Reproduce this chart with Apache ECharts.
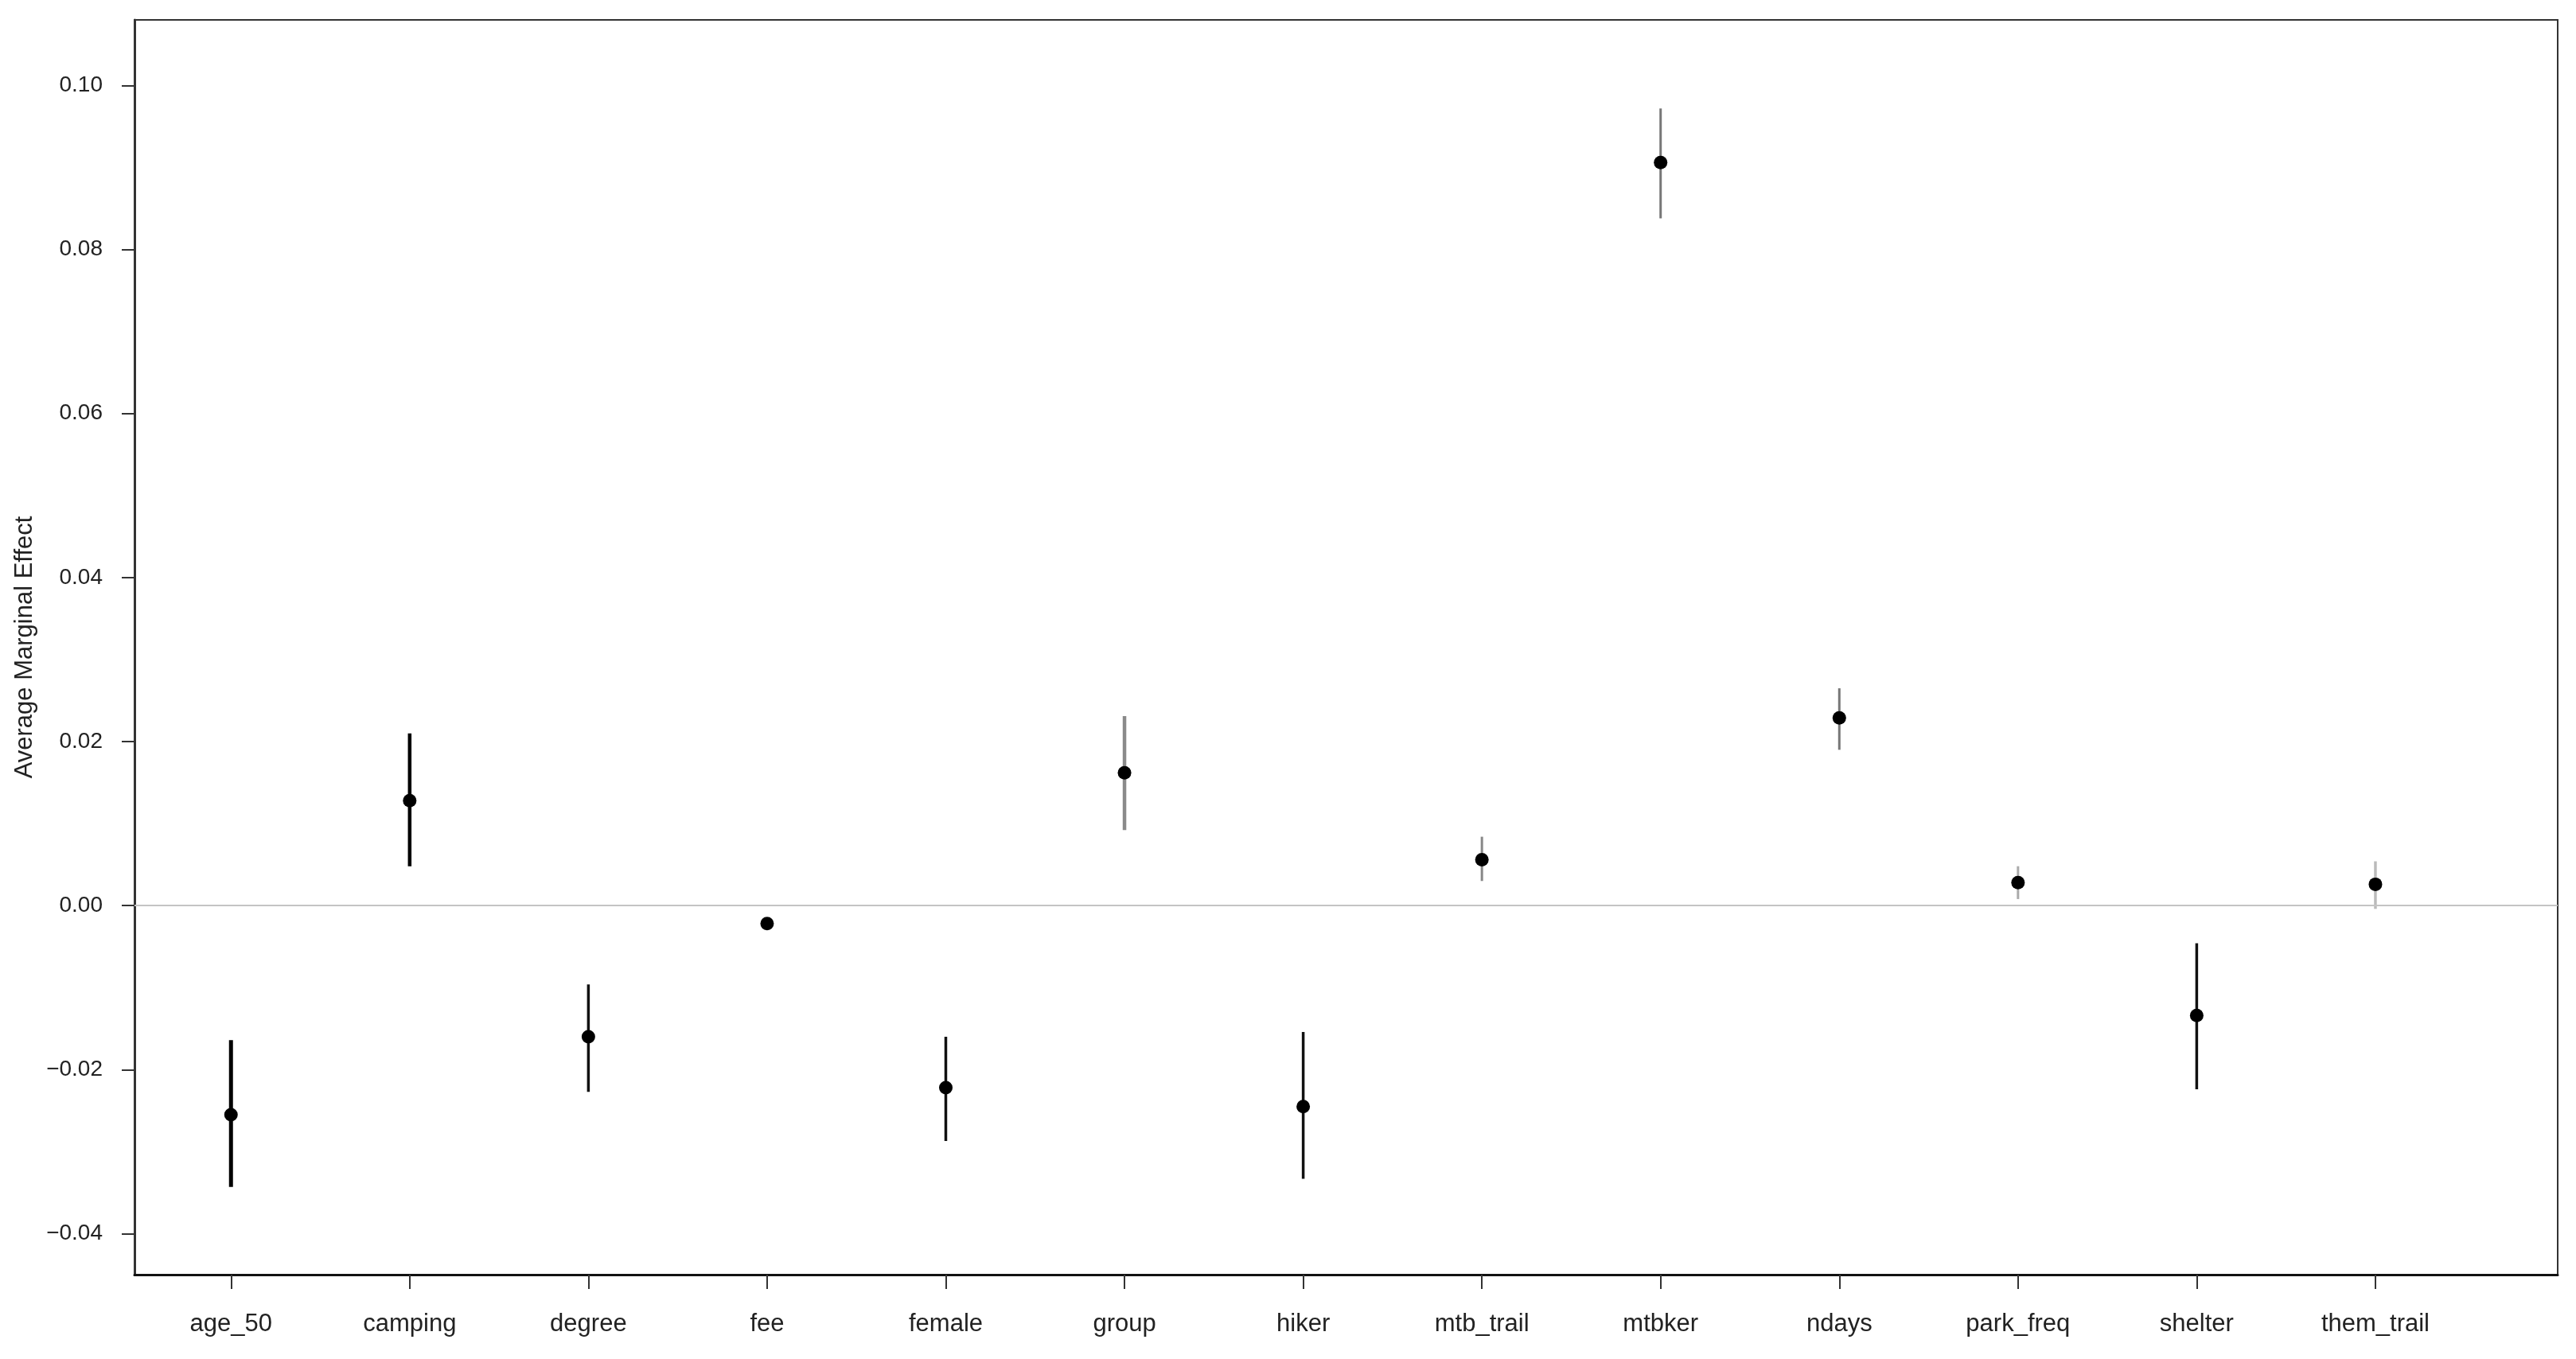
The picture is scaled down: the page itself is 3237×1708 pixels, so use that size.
<!DOCTYPE html>
<html>
<head>
<meta charset="utf-8">
<script src="https://cdn.jsdelivr.net/npm/echarts@6/dist/echarts.min.js"></script>
<style>
    html, body {margin: 0; padding: 0; background: #fff;}
    #main {width: 3237px; height: 1708px;}
</style>
</head>
<body>
<div id="main"></div>
<script>
// variables and average marginal effects with their intervals
var categories = ['age_50', 'camping', 'degree', 'fee', 'female', 'group', 'hiker',
    'mtb_trail', 'mtbker', 'ndays', 'park_freq', 'shelter', 'them_trail'];
var effects = [-0.0255, 0.0128, -0.0160, -0.0022, -0.0222, 0.0162, -0.0245, 0.0056, 0.0906, 0.0229, 0.0028, -0.0134, 0.0026];
var lowerCI = [-0.0343, 0.0048, -0.0227, -0.0025, -0.0287, 0.0092, -0.0333, 0.0030, 0.0838, 0.0190, 0.0008, -0.0224, -0.0004];
var upperCI = [-0.0164, 0.0210, -0.0096, -0.0019, -0.0160, 0.0231, -0.0154, 0.0084, 0.0972, 0.0265, 0.0048, -0.0046, 0.0054];
var yTicks = [-0.04, -0.02, 0, 0.02, 0.04, 0.06, 0.08, 0.10];

// shade and width of each interval line
var barColors = ['#000', '#000', '#111', '#000', '#111', '#8a8a8a', '#111', '#888', '#777', '#777', '#aaa', '#111', '#bbb'];
var barWidths = [5, 4.5, 3.5, 3, 3.5, 4.5, 3.5, 3, 3, 3, 3, 3.5, 3.5];

var xTicks = categories.map(function (c, i) { return i + 1; });
var font = "'Liberation Sans', Arial, Helvetica, sans-serif";

var pointData = effects.map(function (v, i) { return [i + 1, v]; });
var barData = categories.map(function (c, i) { return [i + 1, lowerCI[i], upperCI[i]]; });

var myChart = echarts.init(document.getElementById('main'));

var option = {
    backgroundColor: '#fff',
    animation: false,
    grid: {
        left: 169, right: 23, top: 25, bottom: 106,
        show: true,
        borderColor: '#333',
        borderWidth: 2,
        backgroundColor: 'transparent'
    },
    xAxis: {
        type: 'value',
        min: 0.46,
        max: 14.02,
        splitLine: {show: false},
        axisLine: {show: true, onZero: false, lineStyle: {color: '#111', width: 3}},
        axisTick: {show: true, customValues: xTicks, length: 18, lineStyle: {color: '#333', width: 2}},
        axisLabel: {
            customValues: xTicks,
            margin: 47,
            fontSize: 31,
            fontFamily: font,
            color: '#222',
            formatter: function (v) { return categories[Math.round(v) - 1] || ''; }
        }
    },
    yAxis: {
        type: 'value',
        min: -0.045,
        max: 0.108,
        name: 'Average Marginal Effect',
        nameLocation: 'middle',
        nameGap: 118,
        nameTextStyle: {fontSize: 31, fontFamily: font, color: '#222'},
        splitLine: {show: false},
        axisLine: {show: true, onZero: false, lineStyle: {color: '#333', width: 3}},
        axisTick: {show: true, customValues: yTicks, length: 16, lineStyle: {color: '#333', width: 2}},
        axisLabel: {
            customValues: yTicks,
            margin: 40,
            fontSize: 28,
            fontFamily: font,
            color: '#222',
            formatter: function (v) {
                var s = Math.abs(v).toFixed(2);
                return v < -1e-9 ? '\u2212' + s : s;
            }
        }
    },
    series: [
        {
            // interval lines
            type: 'custom',
            silent: true,
            z: 3,
            data: barData,
            renderItem: function (params, api) {
                var i = params.dataIndex;
                var a = api.coord([api.value(0), api.value(1)]);
                var b = api.coord([api.value(0), api.value(2)]);
                return {
                    type: 'line',
                    shape: {x1: a[0], y1: a[1], x2: b[0], y2: b[1]},
                    style: {stroke: barColors[i], lineWidth: barWidths[i]}
                };
            },
            markLine: {
                silent: true,
                symbol: 'none',
                label: {show: false},
                lineStyle: {color: '#c4c4c4', width: 2, type: 'solid'},
                data: [{yAxis: 0}]
            }
        },
        {
            type: 'scatter',
            z: 4,
            symbol: 'circle',
            symbolSize: 17,
            itemStyle: {color: '#000', opacity: 1},
            data: pointData
        }
    ]
};

myChart.setOption(option);
</script>
</body>
</html>
